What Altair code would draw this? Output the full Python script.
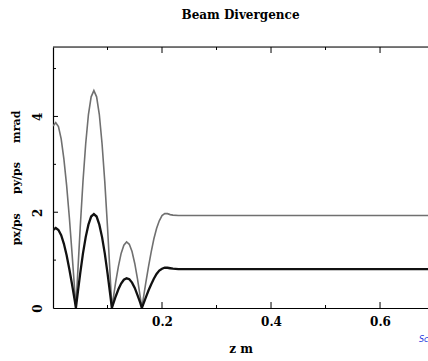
import altair as alt
import pandas as pd

# z positions (m) and curve values
z = [0.000, 0.005, 0.010, 0.015, 0.020, 0.025, 0.030, 0.035, 0.040, 0.042,
     0.045, 0.050, 0.055, 0.060, 0.065, 0.070, 0.075, 0.080, 0.085, 0.090,
     0.095, 0.100, 0.105, 0.108,
     0.110, 0.115, 0.120, 0.125, 0.130, 0.135, 0.140, 0.145, 0.150, 0.155,
     0.160, 0.163,
     0.165, 0.170, 0.175, 0.180, 0.185, 0.190, 0.195, 0.200, 0.205, 0.210,
     0.215, 0.220, 0.230, 0.700]
upper = [3.80, 3.87, 3.79, 3.53, 3.11, 2.56, 1.89, 1.13, 0.34, 0.00,
         0.65, 1.69, 2.64, 3.43, 4.04, 4.41, 4.54, 4.41, 4.04, 3.43,
         2.64, 1.69, 0.65, 0.00,
         0.16, 0.54, 0.87, 1.14, 1.31, 1.38, 1.33, 1.18, 0.93, 0.61,
         0.24, 0.00,
         0.15, 0.51, 0.85, 1.16, 1.44, 1.66, 1.82, 1.93, 1.97, 1.97,
         1.95, 1.94, 1.93, 1.93]
lower = [1.63, 1.67, 1.63, 1.52, 1.34, 1.10, 0.81, 0.49, 0.15, 0.00,
         0.28, 0.73, 1.14, 1.48, 1.74, 1.91, 1.96, 1.91, 1.74, 1.48,
         1.14, 0.73, 0.28, 0.00,
         0.07, 0.24, 0.39, 0.51, 0.59, 0.62, 0.60, 0.53, 0.42, 0.27,
         0.11, 0.00,
         0.06, 0.21, 0.36, 0.49, 0.61, 0.71, 0.78, 0.82, 0.84, 0.84,
         0.83, 0.82, 0.81, 0.81]

x_major = [0.2, 0.4, 0.6]
x_minor = [0.1, 0.3, 0.5]
y_major = [2, 4]
y_minor = [1, 3, 5]
y_labels = [0, 2, 4]

NB = "\u00a0" * 5
Y_TITLE = "px/ps" + NB + "py/ps" + NB + "mrad"

W, H = 375, 261
XDOM = [0, 0.688]
YDOM = [0, 5.45]
FONT = "DejaVu Serif"

df = pd.DataFrame({"z": z * 2,
                   "v": upper + lower,
                   "s": ["upper"] * len(z) + ["lower"] * len(z)})

xs = alt.Scale(domain=XDOM, nice=False, zero=False)
ys = alt.Scale(domain=YDOM, nice=False, zero=False)

lines = alt.Chart(df).mark_line(clip=True).encode(
    x=alt.X("z:Q", scale=xs,
            axis=alt.Axis(values=x_major, format=".1f", title="z m", grid=False,
                          ticks=False, domainColor="black", domainWidth=1.2,
                          labelFont=FONT, labelFontWeight="bold", labelFontSize=12,
                          labelColor="black", labelPadding=8,
                          titleFont=FONT, titleFontWeight="bold", titleFontSize=12,
                          titleColor="black", titlePadding=16)),
    y=alt.Y("v:Q", scale=ys,
            axis=alt.Axis(values=y_labels, format="d", title=Y_TITLE,
                          grid=False, ticks=False, domainColor="black", domainWidth=1.2,
                          labelAngle=270, labelAlign="center", labelBaseline="bottom",
                          labelFont=FONT, labelFontWeight="bold", labelFontSize=12,
                          labelColor="black", labelPadding=9,
                          titleFont=FONT, titleFontWeight="bold", titleFontSize=11,
                          titleColor="black", titlePadding=10)),
    color=alt.Color("s:N", scale=alt.Scale(domain=["upper", "lower"],
                                           range=["#707070", "#111111"]), legend=None),
    strokeWidth=alt.StrokeWidth("s:N", scale=alt.Scale(domain=["upper", "lower"],
                                                       range=[1.6, 2.3]), legend=None),
)

top_border = alt.Chart(pd.DataFrame({"a": [0]})).mark_rule(color="black", strokeWidth=1.2).encode(
    x=alt.value(0), x2=alt.value(W), y=alt.value(0))

def xticks(vals, length):
    d = pd.DataFrame({"t": vals})
    b = alt.Chart(d).mark_rule(color="black", strokeWidth=1).encode(
        x=alt.X("t:Q", scale=xs), y=alt.value(H), y2=alt.value(H - length))
    t = alt.Chart(d).mark_rule(color="black", strokeWidth=1).encode(
        x=alt.X("t:Q", scale=xs), y=alt.value(0), y2=alt.value(length))
    return b + t

def yticks(vals, length):
    d = pd.DataFrame({"t": vals})
    return alt.Chart(d).mark_rule(color="black", strokeWidth=1).encode(
        y=alt.Y("t:Q", scale=ys), x=alt.value(0), x2=alt.value(length))

note = alt.Chart(pd.DataFrame({"s": ["Sc"]})).mark_text(
    color="#2233dd", fontSize=8, font="DejaVu Sans", fontStyle="italic",
    align="left", baseline="middle").encode(
    text="s:N", x=alt.value(366), y=alt.value(293))

chart = alt.layer(
    lines, top_border,
    xticks(x_major, 6), xticks(x_minor, 3),
    yticks(y_major, 5), yticks(y_minor, 3),
    note,
).properties(
    width=W, height=H,
    title=alt.TitleParams("Beam Divergence", font=FONT, fontWeight="bold",
                          fontSize=12, color="black", anchor="middle", offset=24),
    padding={"left": 53, "top": 47, "right": 0, "bottom": 53},
    autosize=alt.AutoSizeParams(type="none"),
).configure_view(stroke=None).configure(background="white")

chart.save("out.html", embed_options={"renderer": "svg", "actions": False})
